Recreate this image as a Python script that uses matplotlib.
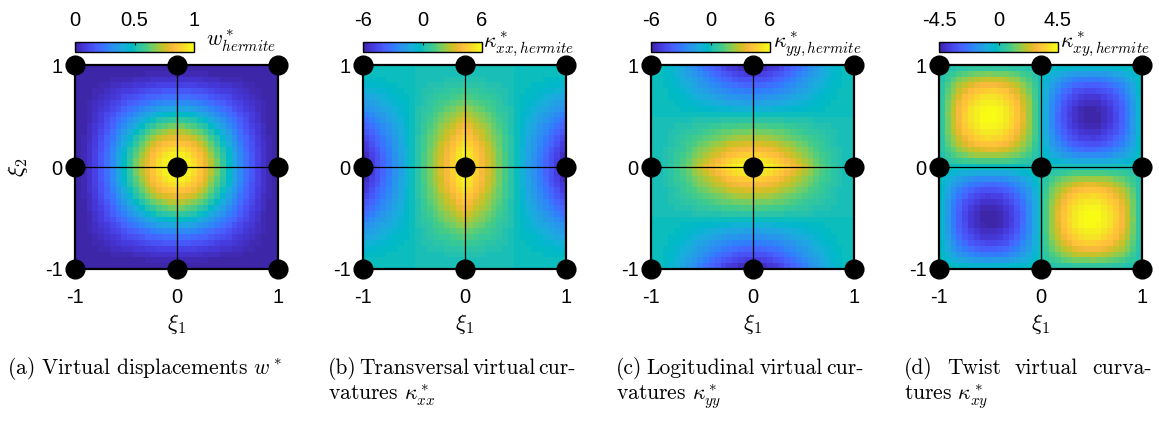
import numpy as np
import matplotlib
matplotlib.use("Agg")
import matplotlib.pyplot as plt
from matplotlib.colors import ListedColormap
from numpy.polynomial import polynomial as P

# MATLAB parula(64)
PARULA = [
    (0.2422, 0.1504, 0.6603), (0.2504, 0.1650, 0.7076), (0.2578, 0.1818, 0.7511),
    (0.2647, 0.1978, 0.7952), (0.2706, 0.2147, 0.8364), (0.2751, 0.2342, 0.8710),
    (0.2783, 0.2559, 0.8991), (0.2803, 0.2782, 0.9221), (0.2813, 0.3006, 0.9414),
    (0.2810, 0.3228, 0.9579), (0.2795, 0.3447, 0.9717), (0.2760, 0.3667, 0.9829),
    (0.2699, 0.3892, 0.9906), (0.2602, 0.4123, 0.9952), (0.2440, 0.4358, 0.9988),
    (0.2206, 0.4603, 0.9973), (0.1963, 0.4847, 0.9892), (0.1834, 0.5074, 0.9798),
    (0.1786, 0.5289, 0.9682), (0.1764, 0.5499, 0.9520), (0.1687, 0.5703, 0.9359),
    (0.1540, 0.5902, 0.9218), (0.1460, 0.6091, 0.9079), (0.1380, 0.6276, 0.8973),
    (0.1248, 0.6459, 0.8883), (0.1113, 0.6635, 0.8763), (0.0952, 0.6798, 0.8598),
    (0.0689, 0.6948, 0.8394), (0.0297, 0.7082, 0.8163), (0.0036, 0.7203, 0.7917),
    (0.0067, 0.7312, 0.7660), (0.0433, 0.7411, 0.7394), (0.0964, 0.7500, 0.7120),
    (0.1408, 0.7584, 0.6842), (0.1717, 0.7670, 0.6554), (0.1938, 0.7758, 0.6251),
    (0.2161, 0.7843, 0.5923), (0.2470, 0.7918, 0.5567), (0.2906, 0.7973, 0.5188),
    (0.3406, 0.8008, 0.4789), (0.3909, 0.8029, 0.4354), (0.4456, 0.8024, 0.3909),
    (0.5044, 0.7993, 0.3480), (0.5616, 0.7942, 0.3045), (0.6174, 0.7876, 0.2612),
    (0.6720, 0.7793, 0.2227), (0.7242, 0.7698, 0.1910), (0.7738, 0.7598, 0.1646),
    (0.8203, 0.7498, 0.1535), (0.8634, 0.7406, 0.1596), (0.9035, 0.7330, 0.1774),
    (0.9393, 0.7288, 0.2100), (0.9728, 0.7298, 0.2394), (0.9956, 0.7434, 0.2371),
    (0.9970, 0.7659, 0.2199), (0.9952, 0.7893, 0.2028), (0.9892, 0.8136, 0.1885),
    (0.9786, 0.8386, 0.1766), (0.9676, 0.8639, 0.1643), (0.9610, 0.8890, 0.1537),
    (0.9597, 0.9135, 0.1423), (0.9628, 0.9373, 0.1265), (0.9691, 0.9606, 0.1064),
    (0.9769, 0.9839, 0.0805),
]
parula = ListedColormap(PARULA, name="parula")

# ---- data -------------------------------------------------------------
# cubic Hermite shape function of the centre node, in powers of |xi|
hermite_coef = [1.0, 0.0, -3.0, 2.0]
node_xi = [-1.0, 0.0, 1.0]
n_cells = 35

field_names = ["w", "kxx", "kyy", "kxy"]
cbar_limits = [(0.0, 1.0), (-6.0, 6.0), (-6.0, 6.0), (-4.5, 4.5)]
cbar_ticks = [[0.0, 0.5, 1.0], [-6.0, 0.0, 6.0], [-6.0, 0.0, 6.0], [-4.5, 0.0, 4.5]]
cbar_ticklabels = [["0", "0.5", "1"], ["-6", "0", "6"], ["-6", "0", "6"],
                   ["-4.5", "0", "4.5"]]
cbar_labels = [r"$w^*_{hermite}$", r"$\kappa^*_{xx,hermite}$",
               r"$\kappa^*_{yy,hermite}$", r"$\kappa^*_{xy,hermite}$"]
axis_ticks = [-1, 0, 1]
axis_ticklabels = ["-1", "0", "1"]

captions = [
    [r"(a) Virtual displacements $w^*$"],
    [r"(b) Transversal virtual cur-", r"vatures $\kappa^*_{xx}$"],
    [r"(c) Logitudinal virtual cur-", r"vatures $\kappa^*_{yy}$"],
    [r"(d) Twist virtual curva-", r"tures $\kappa^*_{xy}$"],
]

# ---- fields -----------------------------------------------------------
def herm(x, d=0):
    c = P.polyder(hermite_coef, d) if d else np.asarray(hermite_coef)
    v = P.polyval(np.abs(x), c)
    return v * np.sign(x) if d % 2 else v

edges = np.linspace(-1, 1, n_cells + 1)
centres = 0.5 * (edges[:-1] + edges[1:])
X1, X2 = np.meshgrid(centres, centres)
fields = {
    "w": herm(X1) * herm(X2),
    "kxx": -herm(X1, 2) * herm(X2),
    "kyy": -herm(X1) * herm(X2, 2),
    "kxy": -2.0 * herm(X1, 1) * herm(X2, 1),
}

# ---- figure -----------------------------------------------------------
W, H = 1159, 421
fig = plt.figure(figsize=(W / 100, H / 100), dpi=100)
plt.rcParams["mathtext.fontset"] = "cm"
tick_font = dict(family="Liberation Sans", size=14.5)

def fx(px):
    return px / W

def fy(py):
    return (H - py) / H

pitch = 288
ax_w, ax_h = 203, 204
for i, name in enumerate(field_names):
    left = 75 + pitch * i
    ax = fig.add_axes([fx(left), fy(269), ax_w / W, ax_h / H])
    vmin, vmax = cbar_limits[i]
    mesh = ax.pcolormesh(edges, edges, fields[name], cmap=parula,
                         vmin=vmin, vmax=vmax, shading="flat")
    ax.axhline(0, color="k", lw=0.9, zorder=3)
    ax.axvline(0, color="k", lw=0.9, zorder=3)
    nx, ny = np.meshgrid(node_xi, node_xi)
    ax.plot(nx.ravel(), ny.ravel(), "o", ms=13.5, color="k",
            clip_on=False, zorder=6)
    ax.set_xlim(-1, 1)
    ax.set_ylim(-1, 1)
    for sp in ax.spines.values():
        sp.set_linewidth(1.6)
        sp.set_zorder(5)
    ax.set_xticks(axis_ticks)
    ax.set_xticklabels(axis_ticklabels, **tick_font)
    ax.set_yticks(axis_ticks)
    ax.set_yticklabels(axis_ticklabels, **tick_font)
    ax.tick_params(axis="x", length=0, pad=14)
    ax.tick_params(axis="y", length=0, pad=9)

    fig.text(fx(left + ax_w / 2), fy(324), r"$\xi_1$", fontsize=16.5,
             ha="center", va="center")
    if i == 0:
        fig.text(fx(18), fy(167), r"$\xi_2$", fontsize=16.5, rotation=90,
                 ha="center", va="center")

    cax = fig.add_axes([fx(left), fy(52), 119 / W, 10 / H])
    cb = fig.colorbar(mesh, cax=cax, orientation="horizontal",
                      ticks=cbar_ticks[i])
    cax.xaxis.set_ticks_position("top")
    cax.set_xticklabels(cbar_ticklabels[i], **tick_font)
    cax.tick_params(axis="x", direction="in", length=2.5, width=0.8,
                    pad=9, color="k")
    cb.outline.set_linewidth(1.0)
    fig.text(fx(left + 166), fy(47), cbar_labels[i], fontsize=15.5,
             ha="center", va="baseline")

# ---- captions ---------------------------------------------------------
cap_font = dict(family="cmr10", size=15.5)
renderer = fig.canvas.get_renderer()

def justified(line, x0, x1, ybase):
    words = line.split(" ")
    texts = [fig.text(0, fy(ybase), w_, ha="left", va="baseline", **cap_font)
             for w_ in words]
    widths = [t.get_window_extent(renderer).width for t in texts]
    gap = (x1 - x0 - sum(widths)) / max(len(words) - 1, 1)
    x = x0
    for t, wd in zip(texts, widths):
        t.set_x(fx(x))
        x += wd + gap

fig.text(fx(145), fy(374), captions[0][0], ha="center", va="baseline",
         **cap_font)
for i in range(1, 4):
    x0 = 328 + pitch * (i - 1)
    x1 = x0 + 248
    justified(captions[i][0], x0, x1, 374)
    fig.text(fx(x0), fy(401), captions[i][1], ha="left", va="baseline",
             **cap_font)

fig.savefig("out.png", dpi=100)
